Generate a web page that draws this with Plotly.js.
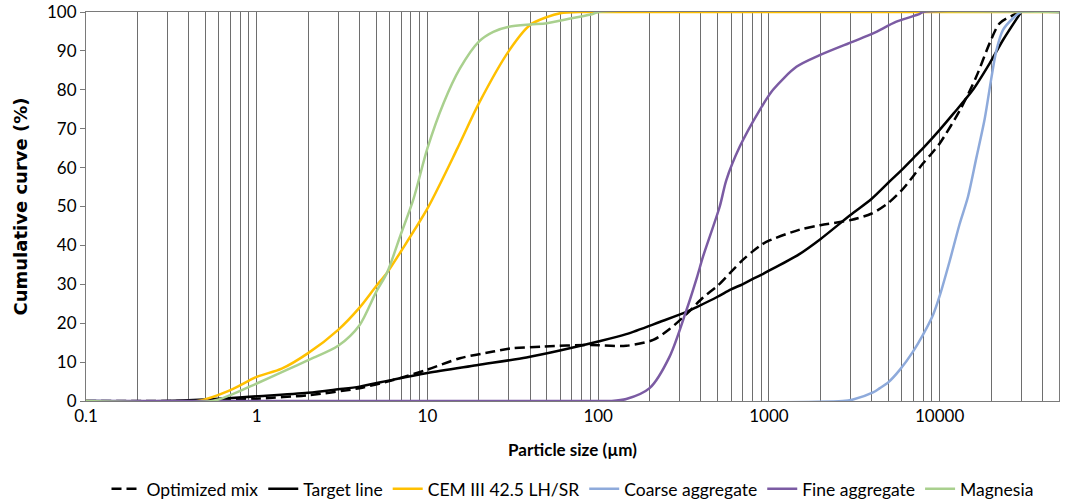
<!DOCTYPE html>
<html>
<head>
<meta charset="utf-8">
<script src="https://cdn.plot.ly/plotly-3.0.1.min.js"></script>
<style>html,body{margin:0;padding:0;background:#fff}#chart{width:1080px;height:504px}</style>
</head>
<body>
<div id="chart"></div>
<script>
// ---- data ----
const optX = [0.1, 0.35, 0.6, 1, 2, 4, 6.3, 9.9, 15.5, 24.3, 30.4, 47.5, 89.4, 146, 210, 262, 337, 411, 500, 600, 700, 800, 900, 1000, 1500, 2000, 3000, 4000, 5000, 6000, 7000, 8000, 9000, 10000, 13090, 16400, 19630, 22440, 26900, 30000];
const optY = [0, 0, 0.2, 0.6, 1.5, 3.3, 5.4, 8, 11, 12.7, 13.5, 14, 14.4, 14.2, 15.7, 18.5, 22.8, 26.6, 29.6, 33.2, 36.2, 38.4, 40.1, 41.2, 44, 45.2, 46.5, 48.2, 50.9, 54.2, 57.8, 61.1, 63.7, 66.2, 74.6, 83.4, 92, 97.1, 99.2, 100];

const tgtX = [0.1, 0.3, 0.5, 1, 2, 3, 4, 6.3, 10, 19.4, 38, 59.6, 100, 146, 229, 329, 380, 500, 600, 700, 800, 900, 1000, 1500, 2000, 3000, 4000, 5000, 6000, 7000, 8000, 10000, 12000, 15660, 19630, 23500, 30000];
const tgtY = [0, 0, 0.4, 1.2, 2.1, 3, 3.7, 5.5, 7.2, 9.2, 11.2, 13, 15.3, 17.2, 20.3, 22.9, 24.2, 26.8, 28.7, 30, 31.3, 32.4, 33.5, 37.7, 41.6, 47.8, 52, 56.1, 59.4, 62.4, 65, 69.7, 73.8, 80, 86.8, 92.8, 100];

const cemX = [0.1, 0.45, 0.7, 1, 1.4, 2, 3, 4, 5, 5.8, 7, 10, 15, 20, 30, 40, 50, 60, 80, 100, 1000, 10000, 50000];
const cemY = [0, 0, 2.8, 6.2, 8.3, 12.3, 18.3, 24, 29.5, 33, 38.5, 49.5, 65, 76.5, 90, 96.7, 98.7, 99.7, 100, 100, 100, 100, 100];

const coarseX = [0.1, 2700, 3111, 4074, 4460, 5000, 5838, 6980, 7980, 9140, 10000, 11450, 13090, 14650, 16400, 18350, 20080, 21460, 23500, 26900, 30000, 50000];
const coarseY = [0, 0, 0.4, 2.2, 3.3, 4.8, 8, 12.7, 17, 22.1, 27, 36, 45.5, 52.5, 62.5, 72.5, 83, 90, 95.4, 98.4, 100, 100];

const fineX = [0.1, 100, 120, 146, 200, 262, 329, 380, 411, 515, 563, 675, 883, 1057, 1449, 1983, 3111, 4074, 5582, 7640, 8000, 50000];
const fineY = [0, 0, 0, 0.5, 3.3, 11.4, 23.4, 32, 37.1, 50, 56.8, 65.4, 74.8, 80, 85.9, 88.9, 92.4, 94.5, 97.5, 99.5, 100, 100];

const magX = [0.1, 0.55, 0.7, 1, 1.5, 2, 3, 4, 5, 5.8, 7, 8.25, 10, 12.4, 15.5, 20, 24.3, 30, 40, 50, 70, 93, 100, 50000];
const magY = [0, 0, 1.5, 4.5, 8, 10.5, 14.2, 19.5, 28, 33, 43, 51.7, 65, 76.5, 85.5, 92.4, 94.9, 96.2, 96.8, 97.1, 98.4, 99.5, 100, 100];

const seriesNames = ['Optimized mix', 'Target line', 'CEM III 42.5 LH/SR', 'Coarse aggregate', 'Fine aggregate', 'Magnesia'];

// tick positions: every 1..9 multiple per decade, labels only at decades
const decades = [0.1, 1, 10, 100, 1000, 10000];
const decadeLabels = ['0.1', '1', '10', '100', '1000', '10000'];
const xTickVals = [];
const xTickText = [];
decades.forEach((d, i) => {
  for (let m = 1; m <= 9; m++) {
    xTickVals.push(d * m);
    xTickText.push(m === 1 ? decadeLabels[i] : '');
  }
});
xTickVals.push(50000); xTickText.push('');
const yTickVals = [0, 10, 20, 30, 40, 50, 60, 70, 80, 90, 100];

// ---- chart ----
const lw = 2.5;
const mk = (x, y, name, color, dash) => ({
  x, y, name, type: 'scatter', mode: 'lines',
  line: {color, width: lw, shape: 'spline', smoothing: 0.8, dash: dash || 'solid'}
});
const traces = [
  mk(optX, optY, seriesNames[0], '#000000', '10px,5px'),
  mk(tgtX, tgtY, seriesNames[1], '#000000'),
  mk(cemX, cemY, seriesNames[2], '#FFC000'),
  mk(coarseX, coarseY, seriesNames[3], '#8EAADB'),
  mk(fineX, fineY, seriesNames[4], '#7B5BA3'),
  mk(magX, magY, seriesNames[5], '#A9D08E')
];

const fontFam = 'Lato, "Noto Sans", sans-serif';
const layout = {
  width: 1080, height: 504,
  margin: {l: 86, r: 21, t: 12, b: 103},
  paper_bgcolor: '#ffffff', plot_bgcolor: '#ffffff',
  font: {family: fontFam, size: 17, color: '#000'},
  showlegend: true,
  legend: {orientation: 'h', x: 0.5, xanchor: 'center', xref: 'paper',
           y: 0.03, yref: 'container', yanchor: 'middle',
           font: {size: 17.5, color: '#000'}, traceorder: 'normal', itemwidth: 30},
  xaxis: {
    type: 'log', range: [-1, Math.log10(50000)], automargin: false,
    tickmode: 'array', tickvals: xTickVals, ticktext: xTickText,
    showgrid: true, gridcolor: '#6e6e6e', gridwidth: 1,
    showline: true, linecolor: '#7a7a7a', linewidth: 1, mirror: true,
    ticks: '', zeroline: false,
    tickfont: {size: 17},
    title: {text: '<b>Particle size (µm)</b>', font: {size: 17}, standoff: 18}
  },
  yaxis: {
    range: [0, 100], tickmode: 'array', tickvals: yTickVals, automargin: false,
    showgrid: false, zeroline: false,
    showline: true, linecolor: '#7a7a7a', linewidth: 1, mirror: true,
    ticks: 'outside', ticklen: 5, tickcolor: '#7a7a7a',
    tickfont: {size: 17},
    title: {text: '<b>Cumulative curve (%)</b>', font: {size: 18, family: '"DejaVu Sans", sans-serif'}, standoff: 14}
  }
};

Plotly.newPlot('chart', traces, layout, {displayModeBar: false, staticPlot: true});
</script>
</body>
</html>
